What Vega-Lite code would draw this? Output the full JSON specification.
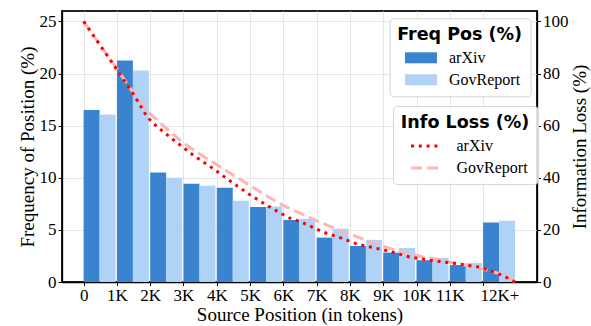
{
  "$schema": "https://vega.github.io/schema/vega-lite/v6.json",
  "width": 475,
  "height": 271,
  "autosize": {"type": "none"},
  "padding": {"left": 62, "top": 11, "right": 54, "bottom": 44},
  "background": "white",
  "config": {
    "font": "Liberation Serif",
    "view": {"stroke": "#222", "strokeWidth": 2},
    "axis": {
      "labelFont": "Liberation Serif",
      "labelFontSize": 17,
      "labelColor": "black",
      "titleFont": "Liberation Serif",
      "titleFontSize": 19,
      "titleFontWeight": "normal",
      "titleColor": "black",
      "domainColor": "black",
      "domainWidth": 1.3,
      "tickColor": "black",
      "tickWidth": 1,
      "tickSize": 4,
      "labelPadding": 2,
      "gridColor": "#e6e6e6",
      "gridWidth": 1
    },
    "legend": {
      "labelFont": "Liberation Serif",
      "labelFontSize": 16,
      "labelColor": "black",
      "titleFont": "DejaVu Sans",
      "titleFontWeight": "bold",
      "titleFontSize": 17.5,
      "titleColor": "black",
      "fillColor": "rgba(255,255,255,0.85)",
      "strokeColor": "#d6d6d6",
      "cornerRadius": 4,
      "padding": 8
    }
  },
  "datasets": {
    "freq": [
      {"idx": 0, "dataset": "arXiv", "freq": 16.5},
      {"idx": 1, "dataset": "arXiv", "freq": 21.25},
      {"idx": 2, "dataset": "arXiv", "freq": 10.5},
      {"idx": 3, "dataset": "arXiv", "freq": 9.42},
      {"idx": 4, "dataset": "arXiv", "freq": 9.04},
      {"idx": 5, "dataset": "arXiv", "freq": 7.2},
      {"idx": 6, "dataset": "arXiv", "freq": 5.96},
      {"idx": 7, "dataset": "arXiv", "freq": 4.26},
      {"idx": 8, "dataset": "arXiv", "freq": 3.46},
      {"idx": 9, "dataset": "arXiv", "freq": 2.82},
      {"idx": 10, "dataset": "arXiv", "freq": 2.09},
      {"idx": 11, "dataset": "arXiv", "freq": 1.63},
      {"idx": 12, "dataset": "arXiv", "freq": 5.7},
      {"idx": 0, "dataset": "GovReport", "freq": 16.06},
      {"idx": 1, "dataset": "GovReport", "freq": 20.3},
      {"idx": 2, "dataset": "GovReport", "freq": 10.0},
      {"idx": 3, "dataset": "GovReport", "freq": 9.23},
      {"idx": 4, "dataset": "GovReport", "freq": 7.8},
      {"idx": 5, "dataset": "GovReport", "freq": 7.24},
      {"idx": 6, "dataset": "GovReport", "freq": 6.06},
      {"idx": 7, "dataset": "GovReport", "freq": 5.1},
      {"idx": 8, "dataset": "GovReport", "freq": 4.04},
      {"idx": 9, "dataset": "GovReport", "freq": 3.27},
      {"idx": 10, "dataset": "GovReport", "freq": 2.31},
      {"idx": 11, "dataset": "GovReport", "freq": 1.83},
      {"idx": 12, "dataset": "GovReport", "freq": 5.87}
    ],
    "loss": [
      {"pos": 0, "dataset": "GovReport", "loss": 100},
      {"pos": 1, "dataset": "GovReport", "loss": 81.8},
      {"pos": 1.5, "dataset": "GovReport", "loss": 72.5},
      {"pos": 2, "dataset": "GovReport", "loss": 64.5},
      {"pos": 2.5, "dataset": "GovReport", "loss": 58.8},
      {"pos": 3, "dataset": "GovReport", "loss": 53.3},
      {"pos": 3.5, "dataset": "GovReport", "loss": 49},
      {"pos": 4, "dataset": "GovReport", "loss": 45},
      {"pos": 4.5, "dataset": "GovReport", "loss": 41},
      {"pos": 5, "dataset": "GovReport", "loss": 37},
      {"pos": 5.5, "dataset": "GovReport", "loss": 33},
      {"pos": 6, "dataset": "GovReport", "loss": 29.3},
      {"pos": 6.54, "dataset": "GovReport", "loss": 26.2},
      {"pos": 7.09, "dataset": "GovReport", "loss": 23.0},
      {"pos": 7.69, "dataset": "GovReport", "loss": 19.8},
      {"pos": 8.49, "dataset": "GovReport", "loss": 16.0},
      {"pos": 9.39, "dataset": "GovReport", "loss": 12.1},
      {"pos": 10.19, "dataset": "GovReport", "loss": 9.6},
      {"pos": 10.99, "dataset": "GovReport", "loss": 7.7},
      {"pos": 11.79, "dataset": "GovReport", "loss": 5.7},
      {"pos": 12.5, "dataset": "GovReport", "loss": 3.2},
      {"pos": 12.96, "dataset": "GovReport", "loss": 0},
      {"pos": 0, "dataset": "arXiv", "loss": 100},
      {"pos": 1, "dataset": "arXiv", "loss": 81.5},
      {"pos": 1.5, "dataset": "arXiv", "loss": 72},
      {"pos": 1.9, "dataset": "arXiv", "loss": 63.5},
      {"pos": 2.06, "dataset": "arXiv", "loss": 61.3},
      {"pos": 2.23, "dataset": "arXiv", "loss": 59.4},
      {"pos": 2.75, "dataset": "arXiv", "loss": 54},
      {"pos": 3.31, "dataset": "arXiv", "loss": 48.5},
      {"pos": 3.86, "dataset": "arXiv", "loss": 43.8},
      {"pos": 4.41, "dataset": "arXiv", "loss": 38.7},
      {"pos": 4.98, "dataset": "arXiv", "loss": 33.6},
      {"pos": 5.56, "dataset": "arXiv", "loss": 29.0},
      {"pos": 6.16, "dataset": "arXiv", "loss": 24.7},
      {"pos": 6.54, "dataset": "arXiv", "loss": 23.0},
      {"pos": 7.18, "dataset": "arXiv", "loss": 19.2},
      {"pos": 7.78, "dataset": "arXiv", "loss": 16.7},
      {"pos": 8.23, "dataset": "arXiv", "loss": 14.5},
      {"pos": 9.09, "dataset": "arXiv", "loss": 12.1},
      {"pos": 9.79, "dataset": "arXiv", "loss": 9.6},
      {"pos": 10.44, "dataset": "arXiv", "loss": 8.3},
      {"pos": 11.34, "dataset": "arXiv", "loss": 6.8},
      {"pos": 11.89, "dataset": "arXiv", "loss": 5.7},
      {"pos": 12.19, "dataset": "arXiv", "loss": 4.5},
      {"pos": 12.64, "dataset": "arXiv", "loss": 2.2},
      {"pos": 12.96, "dataset": "arXiv", "loss": 0}
    ]
  },
  "layer": [
    {
      "data": {"name": "freq"},
      "transform": [
        {"calculate": "datum.idx + (datum.dataset == 'arXiv' ? 0 : 0.48)", "as": "x0"},
        {"calculate": "datum.x0 + 0.48", "as": "x1"}
      ],
      "mark": {"type": "rect", "stroke": null},
      "encoding": {
        "x": {
          "field": "x0", "type": "quantitative",
          "scale": {"domain": [-0.65, 13.62], "nice": false, "zero": false},
          "axis": {
            "values": [0, 1, 2, 3, 4, 5, 6, 7, 8, 9, 10, 11, 12],
            "labelExpr": "datum.value == 0 ? '0' : (datum.value == 12 ? '12K+' : datum.value + 'K')",
            "labelAlign": {"condition": {"test": "datum.value == 12", "value": "left"}, "value": "center"},
            "labelOffset": {"condition": {"test": "datum.value == 12", "value": -3}, "value": 0},
            "labelOverlap": false,
            "labelFlush": false,
            "grid": true,
            "tickSize": 3.5,
            "title": "Source Position (in tokens)",
            "titlePadding": 2
          }
        },
        "x2": {"field": "x1"},
        "y": {
          "field": "freq", "type": "quantitative",
          "scale": {"domain": [0, 26], "nice": false},
          "axis": {
            "orient": "left",
            "values": [0, 5, 10, 15, 20, 25],
            "grid": true,
            "title": "Frequency of Position (%)",
            "titlePadding": 2
          }
        },
        "y2": {"datum": 0},
        "color": {
          "field": "dataset", "type": "nominal",
          "scale": {"domain": ["arXiv", "GovReport"], "range": ["#3a84cf", "#afd3f7"]},
          "legend": {
            "title": "Freq Pos (%)",
            "orient": "none",
            "legendX": 327.6,
            "legendY": 7.3,
            "titleAnchor": "middle",
            "titlePadding": 6,
            "symbolType": "M-2,-0.6875H2V0.6875H-2Z",
            "symbolSize": 256,
            "symbolStrokeWidth": 0,
            "symbolOpacity": 1,
            "symbolOffset": 13.4,
            "labelOffset": 20,
            "rowPadding": 6
          }
        }
      }
    },
    {
      "data": {"name": "loss"},
      "mark": {"type": "line", "strokeWidth": 3, "strokeCap": "butt"},
      "encoding": {
        "x": {
          "field": "pos", "type": "quantitative",
          "axis": {
            "values": [0, 1, 2, 3, 4, 5, 6, 7, 8, 9, 10, 11, 12],
            "labelExpr": "datum.value == 0 ? '0' : (datum.value == 12 ? '12K+' : datum.value + 'K')",
            "labelAlign": {"condition": {"test": "datum.value == 12", "value": "left"}, "value": "center"},
            "labelOffset": {"condition": {"test": "datum.value == 12", "value": -3}, "value": 0},
            "labelOverlap": false,
            "labelFlush": false,
            "grid": true,
            "tickSize": 3.5,
            "title": "Source Position (in tokens)",
            "titlePadding": 2
          }
        },
        "y": {
          "field": "loss", "type": "quantitative",
          "scale": {"domain": [0, 104], "nice": false},
          "axis": {
            "orient": "right",
            "values": [0, 20, 40, 60, 80, 100],
            "grid": false,
            "tickSize": 3.5,
            "title": "Information Loss (%)",
            "titleAngle": 270,
            "titleBaseline": "top",
            "titlePadding": 2
          }
        },
        "detail": {"field": "dataset"},
        "order": {"field": "pos"},
        "color": {
          "field": "dataset", "type": "nominal",
          "scale": {"domain": ["arXiv", "GovReport"], "range": ["#ff0000", "#ffb5b5"]},
          "legend": {
            "title": "Info Loss (%)",
            "orient": "none",
            "legendX": 331,
            "legendY": 95,
            "titleAnchor": "middle",
            "titlePadding": 5,
            "symbolType": "M-2,0H2",
            "symbolSize": 240,
            "symbolStrokeWidth": 3,
            "symbolOffset": 15,
            "labelOffset": 20.5,
            "rowPadding": 4
          }
        },
        "strokeDash": {
          "field": "dataset", "type": "nominal",
          "scale": {"domain": ["arXiv", "GovReport"], "range": [[3, 4.8], [11, 5]]},
          "legend": {
            "title": "Info Loss (%)",
            "orient": "none",
            "legendX": 331,
            "legendY": 95,
            "titleAnchor": "middle",
            "titlePadding": 5,
            "symbolType": "M-2,0H2",
            "symbolSize": 240,
            "symbolStrokeWidth": 3,
            "symbolOffset": 15,
            "labelOffset": 20.5,
            "rowPadding": 4
          }
        }
      }
    }
  ],
  "resolve": {
    "scale": {"y": "independent", "color": "independent", "strokeDash": "independent"},
    "axis": {"y": "independent"},
    "legend": {"color": "independent"}
  }
}
